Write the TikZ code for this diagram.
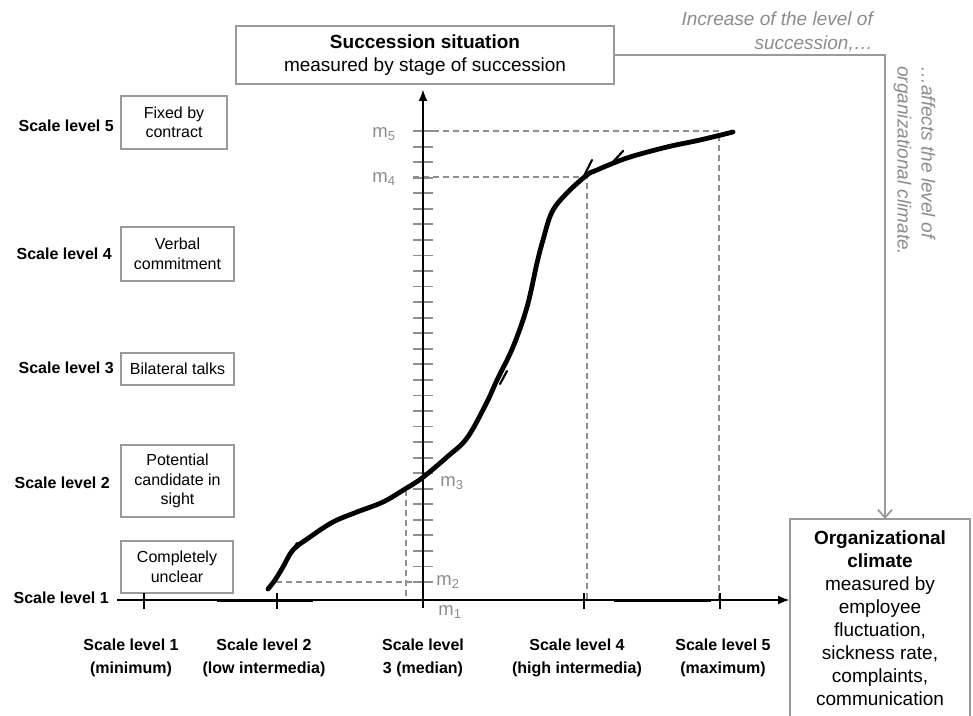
\documentclass[tikz,border=0pt]{standalone}
\usepackage{fontspec}
\setmainfont{Liberation Sans}
\usetikzlibrary{arrows.meta,calc}
\definecolor{boxgray}{HTML}{9A9A9A}
\definecolor{txtgray}{HTML}{8C8C8C}
\definecolor{dashgray}{HTML}{8F8F8F}
\begin{document}
\begin{tikzpicture}[x=1pt,y=-1pt,
  lvl/.style={font=\fontsize{16}{19}\selectfont\bfseries, anchor=east, inner sep=0pt},
  stagebox/.style={draw=boxgray, line width=1.8pt, font=\fontsize{16}{19.5}\selectfont, align=center, inner sep=2pt},
  xlab/.style={font=\fontsize{16}{23}\selectfont\bfseries, align=center, inner sep=0pt},
  axisline/.style={line width=2.4pt, black},
  xtick/.style={line width=2.2pt, black},
  ytick/.style={line width=1.8pt, dashgray},
  guide/.style={dashgray, line width=1.6pt, dash pattern=on 6pt off 4pt},
  mlab/.style={txtgray, font=\fontsize{18.5}{20}\selectfont, inner sep=0pt},
  note/.style={txtgray, font=\fontsize{19}{24}\selectfont\itshape, inner sep=0pt},
  curveline/.style={line width=4.8pt, line cap=round, line join=round},
  barb/.style={line width=2.2pt, line cap=round},
  link/.style={boxgray, line width=1.8pt},
]
\useasboundingbox (0,0) rectangle (973,715);

% top box
\node[stagebox, minimum width=378pt, minimum height=58pt, font=\fontsize{19}{23}\selectfont] (top) at (425,55)
  {\textbf{Succession situation}\\measured by stage of succession};

% left level labels
\node[lvl] (l5) at (114,126) {Scale level 5};
\node[lvl] (l4) at (112,254) {Scale level 4};
\node[lvl] (l3) at (114,368) {Scale level 3};
\node[lvl] (l2) at (110,483) {Scale level 2};
\node[lvl] (l1) at (109,598) {Scale level 1};

% stage boxes
\node[stagebox, minimum width=106pt, minimum height=53pt] (b5) at (174,122.5) {Fixed by\\contract};
\node[stagebox, minimum width=113pt, minimum height=54pt] (b4) at (177.5,254) {Verbal\\commitment};
\node[stagebox, minimum width=113pt, minimum height=32pt] (b3) at (177.5,369) {Bilateral talks};
\node[stagebox, minimum width=113pt, minimum height=72pt] (b2) at (177.5,481) {Potential\\candidate in\\sight};
\node[stagebox, minimum width=112pt, minimum height=52pt] (b1) at (177,567) {Completely\\unclear};

% bottom labels
\node[xlab] (x1) at (131,658) {Scale level 1\\(minimum)};
\node[xlab] (x2) at (264,658) {Scale level 2\\(low intermedia)};
\node[xlab] (x3) at (423,658) {Scale level\\3 (median)};
\node[xlab] (x4) at (577,658) {Scale level 4\\(high intermedia)};
\node[xlab] (x5) at (723,658) {Scale level 5\\(maximum)};

% organizational climate box
\coordinate (orgNW) at (790,519);
\coordinate (orgNE) at (970,519);
\draw[link] (790,730) -- (orgNW) -- (orgNE) -- (970,730);
\node[font=\fontsize{19}{23}\selectfont, align=center, anchor=north, inner sep=0pt] (org) at (880,531)
  {\textbf{Organizational}\\\textbf{climate}\\measured by\\employee\\fluctuation,\\sickness rate,\\complaints,\\communication};

% notes
\node[note, anchor=east, align=right] (inc) at (873,31.5) {Increase of the level of\\succession,\ldots};
\node[note, rotate=-90, anchor=west, align=left] (aff) at (914.5,66) {\ldots affects the level of\\organizational climate.};

% link from top box to org box
\draw[link, -{Straight Barb[length=8pt,width=14pt,line width=1.8pt]}] (top.east) -| ($(orgNW)+(95,0)$);

% vertical ticks
\foreach \i in {0,...,29}{
  \pgfmathsetmacro{\yy}{582-\i*15.55}
  \draw[ytick] (413,\yy) -- (433,\yy);
}

% guides
\draw[guide] (413,131) -- (719,131) -- (719,600);
\draw[guide] (413,177) -- (587,177) -- (587,600);
\draw[guide] (406,490) -- (406,600);
\draw[guide] (276,582) -- (423,582);

% axes
\coordinate (hL) at (117,600);
\coordinate (vB) at (423,608);
\draw[axisline, -{Latex[length=12pt,width=9pt]}] (hL) -- (hL -| orgNW);
\draw[axisline, -{Latex[length=12pt,width=9pt]}] (vB) -- ($(vB |- top.south)+(0,4)$);
\draw[line width=3.0pt] (217,600) -- (313,600);
\draw[line width=3.0pt] (614,600) -- (711,600);
\foreach \xx in {144,277,584,720}{
  \draw[xtick] (\xx,593) -- (\xx,609);
}

% m labels
\node[mlab] (m5) at (384,134) {m\textsubscript{5}};
\node[mlab] (m4) at (384,179) {m\textsubscript{4}};
\node[mlab] (m3) at (452,483) {m\textsubscript{3}};
\node[mlab] (m2) at (448,582) {m\textsubscript{2}};
\node[mlab] (m1) at (450,612) {m\textsubscript{1}};

% curve
\draw[curveline] plot[smooth, tension=0.6] coordinates {(268,589) (275,580) (283,567) (293,550) (310,537) (333,522) (357,512) (383,502) (405,489) (422,478) (447,457) (467,438) (486,404) (497,380) (513,347) (527,307) (537,263) (543,240) (552,212) (567,193) (587,175) (597,170) (627,158) (667,147) (700,140) (733,132)};
\draw[barb] (583,178) -- (592,160);
\draw[barb] (612,163) -- (623,151);
\draw[barb] (507,371) -- (500,384);
\draw[barb] (291,553) -- (297,543);
\end{tikzpicture}
\end{document}
